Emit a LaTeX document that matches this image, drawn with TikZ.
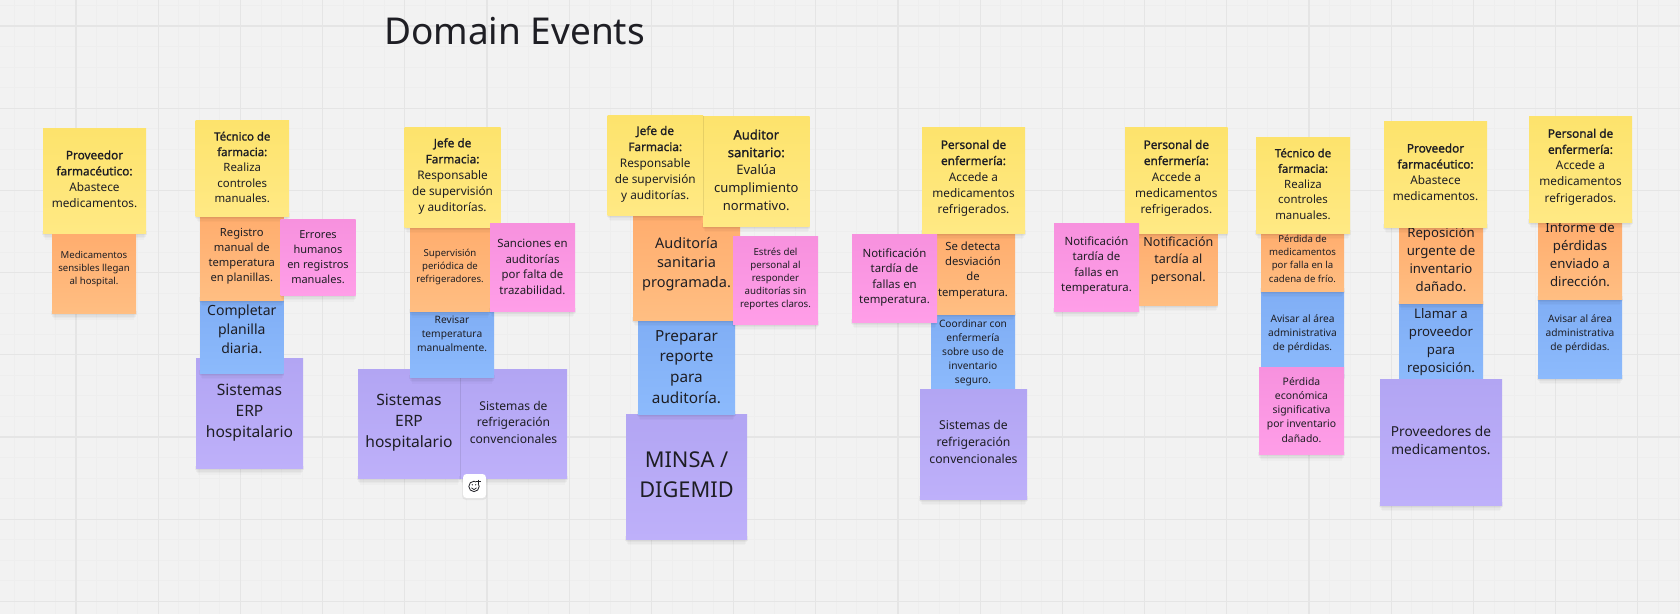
\documentclass[tikz,border=0pt]{standalone}
\usepackage{fontspec}
\usepackage{xfp}
\setmainfont{Noto Sans}[AutoFakeBold=1.3]
\definecolor{bgc}{RGB}{242,242,242}
\definecolor{minorc}{RGB}{238,238,238}
\definecolor{majorc}{RGB}{229,229,229}
\definecolor{ytop}{RGB}{253,227,108}\definecolor{ybot}{RGB}{255,233,132}
\definecolor{otop}{RGB}{255,173,110}\definecolor{obot}{RGB}{255,190,130}
\definecolor{ptop}{RGB}{247,145,222}\definecolor{pbot}{RGB}{255,158,232}
\definecolor{btop}{RGB}{128,174,245}\definecolor{bbot}{RGB}{140,186,252}
\definecolor{vtop}{RGB}{178,165,243}\definecolor{vbot}{RGB}{190,176,250}
\definecolor{inkc}{RGB}{30,30,36}
\tikzset{
 sticky/.style={rectangle,inner sep=0pt,outer sep=0pt,minimum width=#1},
 yellownote/.style={top color=ytop,bottom color=ybot},
 orangenote/.style={top color=otop,bottom color=obot},
 pinknote/.style={top color=ptop,bottom color=pbot},
 bluenote/.style={top color=btop,bottom color=bbot},
 violetnote/.style={top color=vtop,bottom color=vbot},
 notetext/.style={inner sep=0pt,align=center,text=inkc},
 seam/.style={black,opacity=.09,line width=.8pt},
}
% name, colour style, x0, y0, x1, y1, font size, text centre y, text
\newcommand{\stickynote}[9]{%
 \foreach \spr/\dn/\op in {-2/6/.02,-1/4.5/.025,0/3/.03,0.6/1.5/.04}{
  \fill[black,opacity=\op] (#3-\spr,#6-3) rectangle (#5+\spr,#6+\dn);}
 \node[sticky=#5pt-#3pt,minimum height=#6pt-#4pt,#2] (#1) at ({(#3+#5)/2},{(#4+#6)/2}) {};
 \node[notetext,font=\fontsize{#7}{\fpeval{#7*1.362}}\selectfont] (#1text) at ({(#3+#5)/2},#8) {#9};
}
\begin{document}
\begin{tikzpicture}[x=1pt,y=-1pt]
\useasboundingbox (0,0) rectangle (1680,614);
\fill[bgc] (0,0) rectangle (1680,614);
\foreach \i in {0,...,81}{\draw[minorc,line width=.8pt] ({14.3+20.55*\i},0) -- ({14.3+20.55*\i},614);}
\foreach \i in {0,...,29}{\draw[minorc,line width=.8pt] (0,{5.4+20.55*\i}) -- (1680,{5.4+20.55*\i});}
\foreach \i in {0,...,20}{\draw[majorc,line width=1.1pt] ({76+82.2*\i},0) -- ({76+82.2*\i},614);}
\foreach \i in {0,...,7}{\draw[majorc,line width=1.1pt] (0,{26+82.2*\i}) -- (1680,{26+82.2*\i});}
\node[anchor=base,inner sep=0pt,text=inkc,font=\fontsize{37}{44}\selectfont] (title) at (514.5,44) {Domain Events};

\stickynote{yA}{yellownote}{43}{128}{146}{233.7}{11.8}{179}{\textbf{Proveedor}\\\textbf{farmacéutico:}\\Abastece\\medicamentos.}
\stickynote{oA}{orangenote}{52}{234}{136}{313.7}{9.6}{269}{Medicamentos\\sensibles llegan\\al hospital.}

\stickynote{vB}{violetnote}{196}{358}{303}{468.7}{15.6}{412.5}{Sistemas\\ERP\\hospitalario}
\stickynote{bB}{bluenote}{200}{300}{283.6}{373.3}{14}{329.3}{Completar\\planilla\\diaria.}
\stickynote{oB}{orangenote}{200}{216}{283.6}{300}{11.2}{256.3}{Registro\\manual de\\temperatura\\en planillas.}
\stickynote{yB}{yellownote}{195.5}{120}{289}{216}{11.4}{167.3}{\textbf{Técnico de}\\\textbf{farmacia:}\\Realiza\\controles\\manuales.}
\stickynote{pB}{pinknote}{280.5}{219}{355.5}{295.7}{11}{256.8}{Errores\\humanos\\en registros\\manuales.}

\stickynote{vC}{violetnote}{358}{369}{460}{478.7}{15.6}{422.7}{Sistemas\\ERP\\hospitalario}
\stickynote{vD}{violetnote}{460}{369}{567}{478.7}{12.1}{422.2}{Sistemas de\\refrigeración\\convencionales}
\draw[seam] (vD.north west) -- (vD.south west);
\stickynote{bC}{bluenote}{410}{311.7}{494}{377.7}{10.2}{333.8}{Revisar\\temperatura\\manualmente.}
\stickynote{oC}{orangenote}{410}{227}{490}{311.7}{9.6}{267}{Supervisión\\periódica de\\refrigeradores.}
\stickynote{yC}{yellownote}{404.5}{127.3}{500.6}{227}{11.8}{176.3}{\textbf{Jefe de}\\\textbf{Farmacia:}\\Responsable\\de supervisión\\y auditorías.}
\stickynote{pC}{pinknote}{490}{223.7}{575}{311}{11.4}{266.7}{Sanciones en\\auditorías\\por falta de\\trazabilidad.}

\stickynote{vE}{violetnote}{626}{414}{747}{539}{21.8}{474.8}{MINSA /\\DIGEMID}
\stickynote{bE}{bluenote}{638}{320}{735}{414}{15.3}{367}{Preparar\\reporte\\para\\auditoría.}
\stickynote{oE}{orangenote}{633}{215}{740}{320}{14.5}{264}{Auditoría\\sanitaria\\programada.}
\stickynote{yE}{yellownote}{607.5}{115}{703}{215}{11.8}{164}{\textbf{Jefe de}\\\textbf{Farmacia:}\\Responsable\\de supervisión\\y auditorías.}
\stickynote{yF}{yellownote}{703}{116}{809.6}{226}{13}{170}{\textbf{Auditor}\\\textbf{sanitario:}\\Evalúa\\cumplimiento\\normativo.}
\draw[seam] (yF.north west) -- (yE.south east);
\stickynote{pE}{pinknote}{733}{236}{818}{324}{9.7}{279}{Estrés del\\personal al\\responder\\auditorías sin\\reportes claros.}

\stickynote{bG}{bluenote}{931}{314.7}{1015}{392}{10.2}{352.8}{Coordinar con\\enfermería\\sobre uso de\\inventario\\seguro.}
\stickynote{vG}{violetnote}{920}{389}{1027}{499}{12.2}{442}{Sistemas de\\refrigeración\\convencionales}
\stickynote{oG}{orangenote}{931}{233}{1015}{314}{11.3}{270.3}{Se detecta\\desviación\\de\\temperatura.}
\stickynote{yG}{yellownote}{922}{127}{1025}{233}{11.8}{178}{\textbf{Personal de}\\\textbf{enfermería:}\\Accede a\\medicamentos\\refrigerados.}
\stickynote{pG}{pinknote}{852}{234}{937}{322}{11.4}{277.3}{Notificación\\tardía de\\fallas en\\temperatura.}

\stickynote{oH}{orangenote}{1139}{233.3}{1217.7}{305}{12.5}{260.7}{Notificación\\tardía al\\personal.}
\stickynote{yH}{yellownote}{1125}{127}{1227.7}{233}{11.8}{178}{\textbf{Personal de}\\\textbf{enfermería:}\\Accede a\\medicamentos\\refrigerados.}
\stickynote{pH}{pinknote}{1054}{223}{1139}{311}{11.4}{265.7}{Notificación\\tardía de\\fallas en\\temperatura.}

\stickynote{bI}{bluenote}{1261}{291}{1344}{377}{10.2}{333.5}{Avisar al área\\administrativa\\de pérdidas.}
\stickynote{oI}{orangenote}{1261}{233}{1344}{291}{9.6}{258.8}{Pérdida de\\medicamentos\\por falla en la\\cadena de frío.}
\stickynote{yI}{yellownote}{1256}{137}{1350}{233}{11.4}{184}{\textbf{Técnico de}\\\textbf{farmacia:}\\Realiza\\controles\\manuales.}
\stickynote{pI}{pinknote}{1259}{367}{1344}{454.7}{10.4}{409.8}{Pérdida\\económica\\significativa\\por inventario\\dañado.}

\stickynote{bJ}{bluenote}{1399}{304}{1483}{382}{13.2}{341.7}{Llamar a\\proveedor\\para\\reposición.}
\stickynote{vJ}{violetnote}{1380}{379}{1502}{505}{13.7}{440.3}{Proveedores de\\medicamentos.}
\stickynote{oJ}{orangenote}{1399}{227}{1483}{303.5}{13.2}{259.2}{Reposición\\urgente de\\inventario\\dañado.}
\stickynote{yJ}{yellownote}{1384}{121}{1487}{227}{11.8}{172.2}{\textbf{Proveedor}\\\textbf{farmacéutico:}\\Abastece\\medicamentos.}

\stickynote{bK}{bluenote}{1538}{299}{1622}{378}{10.2}{333.5}{Avisar al área\\administrativa\\de pérdidas.}
\stickynote{oK}{orangenote}{1538}{222}{1622}{299}{13.2}{254.3}{Informe de\\pérdidas\\enviado a\\dirección.}
\stickynote{yK}{yellownote}{1529}{116}{1632}{222}{11.8}{166.8}{\textbf{Personal de}\\\textbf{enfermería:}\\Accede a\\medicamentos\\refrigerados.}

% reaction button
\fill[black,opacity=.05,rounded corners=4pt] (462,475) rectangle (487,500);
\node[rectangle,rounded corners=3.5pt,fill=white,minimum width=23pt,minimum height=24pt,inner sep=0pt] (reaction) at (474.5,486) {};
\draw[inkc,line width=.8pt] (474,486.4) circle (5.2pt);
\fill[white] (476.4,479.4) rectangle (481.6,484.4);
\draw[inkc,line width=.7pt] (471.4,487.8) .. controls (472.6,490.2) and (475.4,490.2) .. (476.6,487.8);
\fill[inkc] (472.3,484.8) circle (.65pt) (475.7,484.8) circle (.65pt);
\draw[inkc,line width=.8pt] (478.6,479.6) -- (478.6,484) (476.4,481.8) -- (480.8,481.8);
\end{tikzpicture}
\end{document}
